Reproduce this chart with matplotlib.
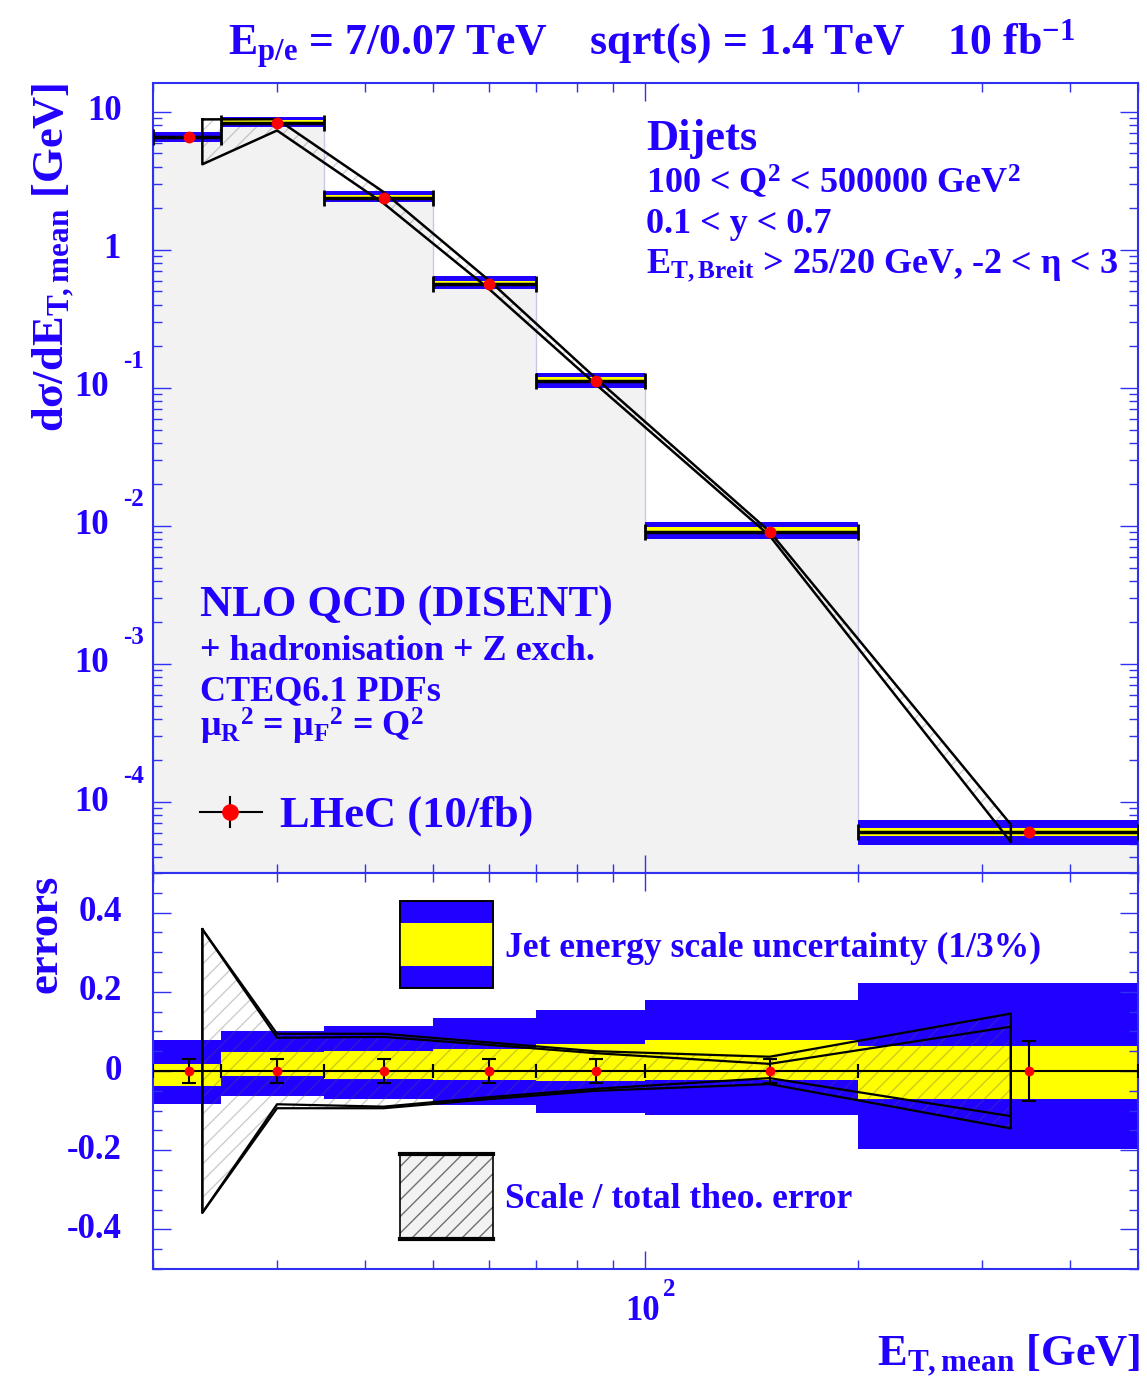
import numpy as np
import matplotlib.pyplot as plt
from matplotlib.patches import Rectangle
from matplotlib.ticker import MultipleLocator, LogLocator, NullFormatter

W, H = 1147, 1379
TXT = '#2200ff'
BLUE = '#2000ff'
YEL = '#ffff00'
SPINE = '#3030f0'

# bins in E_T,mean [GeV]
edges = [20, 25, 35, 50, 70, 100, 200, 500]
et_mean = [22.5, 30, 42.5, 60, 85, 150, 350]
xsec = [6.6, 8.3, 2.38, 0.567, 0.112, 0.00905, 6.06e-5]
stat_err = [0.03, 0.03, 0.03, 0.03, 0.03, 0.03, 0.077]

# jet energy scale uncertainty, 3% (blue) and 1% (yellow), relative
jes3_up = [0.079, 0.100, 0.114, 0.134, 0.155, 0.180, 0.223]
jes3_dn = [-0.083, -0.063, -0.071, -0.086, -0.107, -0.112, -0.198]
jes1_up = [0.018, 0.048, 0.051, 0.056, 0.069, 0.079, 0.063]
jes1_dn = [-0.038, -0.013, -0.020, -0.023, -0.025, -0.023, -0.071]

# theory (NLO) points, total and scale errors
theo_x = [23.5, 30, 42.5, 60, 85, 150, 330]
theo_val = [6.5, 8.1, 2.4, 0.56, 0.112, 0.0088, 6.0e-5]
tot_up = [0.358, 0.094, 0.094, 0.072, 0.050, 0.036, 0.145]
tot_dn = [-0.358, -0.094, -0.094, -0.071, -0.050, -0.033, -0.145]
scl_up = [0.358, 0.084, 0.086, 0.066, 0.045, 0.018, 0.112]
scl_dn = [-0.358, -0.084, -0.090, -0.066, -0.045, -0.018, -0.114]

plt.rcParams['font.family'] = ['Liberation Serif', 'DejaVu Serif']
plt.rcParams['font.weight'] = 'bold'
plt.rcParams['mathtext.fontset'] = 'custom'
plt.rcParams['mathtext.rm'] = 'Liberation Serif:bold'
plt.rcParams['mathtext.it'] = 'Liberation Serif:bold'
plt.rcParams['mathtext.bf'] = 'Liberation Serif:bold'
plt.rcParams['mathtext.default'] = 'rm'

fig = plt.figure(figsize=(W / 100, H / 100), dpi=100)
L, R = 153, 1138
T1, B1, B2 = 83, 873, 1269
ax1 = fig.add_axes([L / W, 1 - B1 / H, (R - L) / W, (B1 - T1) / H])
ax2 = fig.add_axes([L / W, 1 - B2 / H, (R - L) / W, (B2 - B1) / H])


def ftext(x, y, s, size, **kw):
    kw.setdefault('ha', 'left')
    kw.setdefault('va', 'baseline')
    fig.text(x / W, 1 - y / H, s, fontsize=size, color=TXT, **kw)


xs = np.array(et_mean)
xerr = [xs - np.array(edges[:-1]), np.array(edges[1:]) - xs]
v = np.array(xsec)

# ---- top panel
ax1.stairs(xsec, edges, baseline=1e-6, fill=True, facecolor='#f2f2f2',
           edgecolor='#c8c8e6', linewidth=1, zorder=1)
tv = np.array(theo_val)
hi = tv * (1 + np.array(tot_up))
lo = tv * (1 + np.array(tot_dn))
ax1.fill_between(theo_x, lo, hi, facecolor='none', hatch='//',
                 edgecolor=(0.4, 0.4, 0.4, 0.3), linewidth=0, zorder=2)
ax1.stairs(v * (1 + np.array(jes3_up)), edges, baseline=v * (1 + np.array(jes3_dn)),
           fill=True, color=BLUE, zorder=3)
ax1.stairs(v * (1 + np.array(jes1_up)), edges, baseline=v * (1 + np.array(jes1_dn)),
           fill=True, color=YEL, zorder=3)
px = list(theo_x) + list(theo_x[::-1]) + [theo_x[0]]
py = list(hi) + list(lo[::-1]) + [hi[0]]
ax1.plot(px, py, color='k', lw=1.8, zorder=4)
ax1.errorbar(et_mean, xsec, xerr=xerr, fmt='none', ecolor='k', elinewidth=2.5,
             capsize=6, capthick=2, zorder=5)
ax1.plot(et_mean, xsec, 'o', color='red', ms=7.5, zorder=6)
ax1.set_xscale('log')
ax1.set_yscale('log')
ax1.set_xlim(20, 500)
ax1.set_ylim(3.06e-5, 16.2)

# ---- bottom panel
ax2.stairs(jes3_up, edges, baseline=jes3_dn, fill=True, color=BLUE, zorder=1)
ax2.stairs(jes1_up, edges, baseline=jes1_dn, fill=True, color=YEL, zorder=1)
ax2.fill_between(theo_x, tot_dn, tot_up, facecolor='none', hatch='//',
                 edgecolor=(0.35, 0.35, 0.35, 0.3), linewidth=0, zorder=2)
for up, dn in [(tot_up, tot_dn), (scl_up, scl_dn)]:
    qx = list(theo_x) + list(theo_x[::-1]) + [theo_x[0]]
    qy = list(up) + list(dn[::-1]) + [up[0]]
    ax2.plot(qx, qy, color='k', lw=1.6, zorder=3)
ax2.errorbar(et_mean, np.zeros(len(xs)), xerr=xerr, yerr=stat_err, fmt='none',
             ecolor='k', elinewidth=1.5, capsize=5, capthick=1.5, zorder=4)
ax2.plot(et_mean, np.zeros(len(xs)), 'o', color='red', ms=6, zorder=5)
ax2.set_xscale('log')
ax2.set_xlim(20, 500)
ax2.set_ylim(-0.5, 0.5)
ax2.yaxis.set_major_locator(MultipleLocator(0.2))
ax2.yaxis.set_minor_locator(MultipleLocator(0.05))

for ax in (ax1, ax2):
    for sp in ax.spines.values():
        sp.set_color(SPINE)
        sp.set_linewidth(1.5)
    ax.tick_params(which='both', direction='in', top=True, right=True,
                   color=SPINE, width=1, labelleft=False, labelbottom=False)
    ax.tick_params(which='major', length=13)
    ax.tick_params(which='minor', length=6.5)
    ax.xaxis.set_minor_locator(LogLocator(subs=np.arange(2, 10)))
    ax.xaxis.set_minor_formatter(NullFormatter())
ax1.yaxis.set_minor_locator(LogLocator(subs=np.arange(2, 10), numticks=20))
ax1.yaxis.set_major_locator(LogLocator(numticks=20))


def tlab(ax, x, y, s, dx, dy, size, ha='right', xc=('axes fraction', 'data')):
    ax.annotate(s, xy=(x, y), xycoords=xc, xytext=(dx, -dy),
                textcoords='offset pixels', ha=ha, va='center',
                fontsize=size, color=TXT, annotation_clip=False)


for e in range(-4, 2):
    if e == 0:
        tlab(ax1, 0, 1.0, '1', -33, 0, 25)
    elif e == 1:
        tlab(ax1, 0, 10.0, '10', -31, 0, 25)
    else:
        tlab(ax1, 0, 10.0 ** e, '10', -44, 0, 25)
        tlab(ax1, 0, 10.0 ** e, str(e), -30, -26, 18, ha='left')

for t in [-0.4, -0.2, 0, 0.2, 0.4]:
    s = '0' if t == 0 else f'{t:.1f}'
    tlab(ax2, 0, t, s, -31, 0, 25)

tlab(ax2, 100, 0, '10', -3, 42, 25, ha='center', xc=('data', 'axes fraction'))
tlab(ax2, 100, 0, '2', 18, 21, 18, ha='left', xc=('data', 'axes fraction'))

# ---- texts
ftext(651, 55, 'E$_{\\mathrm{p/e}}$ = 7/0.07 TeV    sqrt(s) = 1.4 TeV    10 fb$^{\\mathrm{-1}}$',
      31.5, ha='center')
fig.text(63 / W, 1 - 257 / H, 'dσ/dE$_{\\mathrm{T,mean}}$ [GeV]', fontsize=32, color=TXT,
         rotation=90, rotation_mode='anchor', ha='center', va='baseline')
fig.text(57 / W, 1 - 934 / H, 'errors', fontsize=32, color=TXT,
         rotation=90, rotation_mode='anchor', ha='center', va='baseline')
ftext(1140, 1365, 'E$_{\\mathrm{T,mean}}$ [GeV]', 32, ha='right')

ftext(646, 150, 'Dijets', 32)
ftext(646, 193, '100 < Q$^{2}$ < 500000 GeV$^{2}$', 26)
ftext(646, 233, '0.1 < y < 0.7', 26)
ftext(646, 273, 'E$_{\\mathrm{T,Breit}}$ > 25/20 GeV, -2 < η < 3', 26)

ftext(200, 617, 'NLO QCD (DISENT)', 32)
ftext(200, 660, '+ hadronisation + Z exch.', 26)
ftext(200, 700, 'CTEQ6.1 PDFs', 26)
ftext(200, 737, 'μ$_{\\mathrm{R}}{}^{2}$ = μ$_{\\mathrm{F}}{}^{2}$ = Q$^{2}$', 26)
ftext(280, 827, 'LHeC (10/fb)', 32)


def a1(px, py):
    return (px - L) / (R - L), (B1 - py) / (B1 - T1)


def a2(px, py):
    return (px - L) / (R - L), (B2 - py) / (B2 - B1)


lx0, ly = a1(200, 812)
lx1, _ = a1(262, 812)
mx, _ = a1(230, 812)
_, vy0 = a1(230, 797)
_, vy1 = a1(230, 827)
ax1.plot([lx0, lx1], [ly, ly], color='k', lw=1.5, transform=ax1.transAxes, zorder=7)
ax1.plot([mx, mx], [vy0, vy1], color='k', lw=1.5, transform=ax1.transAxes, zorder=7)
ax1.plot([mx], [ly], 'o', color='red', ms=11, transform=ax1.transAxes, zorder=8)

# legend boxes in bottom panel
bx0, by_top = a2(400, 901)
bx1, by_bot = a2(493, 988)
_, yy_top = a2(400, 923)
_, yy_bot = a2(400, 966)
ax2.add_patch(Rectangle((bx0, by_bot), bx1 - bx0, by_top - by_bot, transform=ax2.transAxes,
                        facecolor=BLUE, edgecolor='k', lw=1.2, zorder=6))
ax2.add_patch(Rectangle((bx0, yy_bot), bx1 - bx0, yy_top - yy_bot, transform=ax2.transAxes,
                        facecolor=YEL, edgecolor='none', zorder=7))
ax2.add_patch(Rectangle((bx0, by_bot), bx1 - bx0, by_top - by_bot, transform=ax2.transAxes,
                        facecolor='none', edgecolor='k', lw=1.2, zorder=8))
tx, ty = a2(505, 957)
ax2.text(tx, ty, 'Jet energy scale uncertainty (1/3%)', transform=ax2.transAxes,
         fontsize=25.5, color=TXT, va='baseline')

_, hb_top = a2(400, 1154)
_, hb_bot = a2(400, 1239)
ax2.add_patch(Rectangle((bx0, hb_bot), bx1 - bx0, hb_top - hb_bot, transform=ax2.transAxes,
                        facecolor='#f2f2f2', edgecolor='none', zorder=6))
ax2.add_patch(Rectangle((bx0, hb_bot), bx1 - bx0, hb_top - hb_bot, transform=ax2.transAxes,
                        facecolor='none', edgecolor='#707070', hatch='//', lw=0, zorder=7))
ax2.add_patch(Rectangle((bx0, hb_bot), bx1 - bx0, hb_top - hb_bot, transform=ax2.transAxes,
                        facecolor='none', edgecolor='k', lw=1.2, zorder=8))
ax2.plot([bx0, bx1], [hb_top, hb_top], color='k', lw=3, transform=ax2.transAxes, zorder=9)
ax2.plot([bx0, bx1], [hb_bot, hb_bot], color='k', lw=3, transform=ax2.transAxes, zorder=9)
tx, ty = a2(505, 1208)
ax2.text(tx, ty, 'Scale / total theo. error', transform=ax2.transAxes,
         fontsize=25.5, color=TXT, va='baseline')

fig.savefig('out.png', dpi=100)
